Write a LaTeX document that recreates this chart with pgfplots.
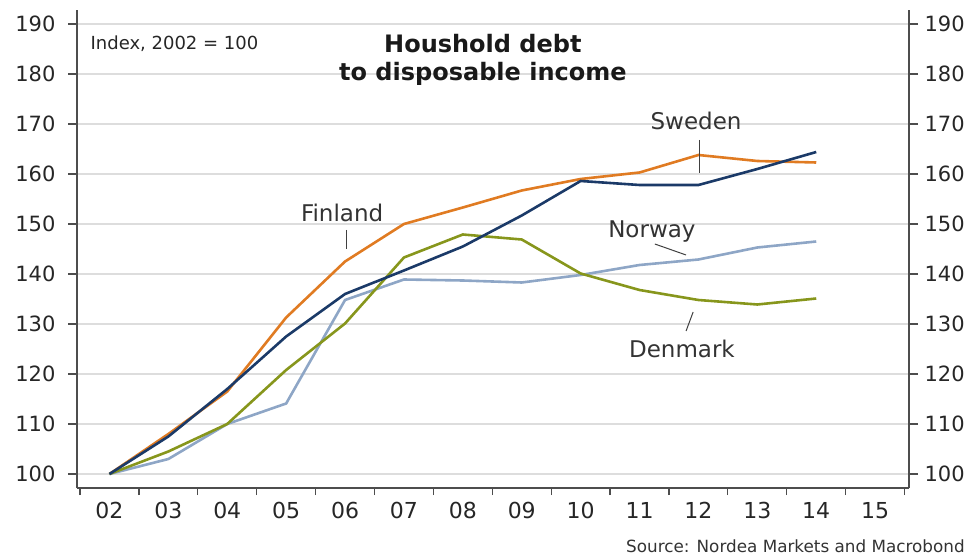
\documentclass[border=0pt]{standalone}
\usepackage{pgfplots}
\pgfplotsset{compat=1.18}
\usepackage{fontspec}
\setmainfont{DejaVu Sans}
\definecolor{swe}{HTML}{1B3A68}
\definecolor{fin}{HTML}{E07B22}
\definecolor{nor}{HTML}{8EA6C6}
\definecolor{den}{HTML}{87961C}
\definecolor{gridc}{HTML}{DDDDDD}
\definecolor{axc}{HTML}{4D4D4D}
\pgfplotsset{base/.style={
  scale only axis, width=832pt, height=478pt,
  xmin=1.449, xmax=15.575, ymin=97.2, ymax=192.8,
  ytick={100,110,...,190},
  /pgf/number format/assume math mode=true,
  tick align=outside,
  axis line style={axc, line width=1.2pt},
  major tick length=9pt,
  minor tick length=7pt,
  ytick style={axc, line width=1.2pt},
  ticklabel style={font=\fontsize{21}{21}\selectfont, text=black!85},
  clip=false,
}}
\begin{document}
\begin{tikzpicture}
\path[use as bounding box] (-77pt,-69pt) rectangle (894pt,488pt);
\begin{axis}[base,
  axis x line*=bottom, axis y line*=left,
  xtick={2,...,15},
  xticklabels={02,03,04,05,06,07,08,09,10,11,12,13,14,15},
  major x tick style={draw=none},
  minor xtick={1.5,2.5,...,15.5},
  minor x tick style={axc, line width=1.2pt},
  xticklabel style={font=\fontsize{22}{22}\selectfont, yshift=-2pt},
  yticklabel style={xshift=-9pt},
  ymajorgrids, major grid style={gridc, line width=1.5pt},
]
\addplot[fin, line width=2.6pt] coordinates {(2,100) (3,108) (4,116.5) (5,131.3) (6,142.5) (7,150) (8,153.3) (9,156.7) (10,159) (11,160.3) (12,163.8) (13,162.6) (14,162.3)};
\addplot[nor, line width=2.6pt] coordinates {(2,100) (3,103) (4,110) (5,114.1) (6,134.8) (7,138.9) (8,138.7) (9,138.3) (10,139.8) (11,141.8) (12,142.9) (13,145.3) (14,146.5)};
\addplot[den, line width=2.6pt] coordinates {(2,100) (3,104.5) (4,110) (5,120.8) (6,130.1) (7,143.3) (8,147.9) (9,146.9) (10,140.1) (11,136.8) (12,134.8) (13,133.9) (14,135.1)};
\addplot[swe, line width=2.6pt] coordinates {(2,100) (3,107.5) (4,117) (5,127.5) (6,136) (7,140.7) (8,145.5) (9,151.7) (10,158.6) (11,157.8) (12,157.8) (13,161) (14,164.4)};
\node[anchor=base west, font=\fontsize{18}{18}\selectfont, text=black!85] at (axis cs:1.62,184.8) {Index, 2002 = 100};
\node[anchor=base, font=\bfseries\fontsize{24}{24}\selectfont, text=black!90] at (axis cs:8.34,184.2) {Houshold debt};
\node[anchor=base, font=\bfseries\fontsize{24}{24}\selectfont, text=black!90] at (axis cs:8.34,178.6) {to disposable income};
\node[anchor=base, font=\fontsize{23}{23}\selectfont, text=black!80] at (axis cs:11.96,168.8) {Sweden};
\draw[black!75, line width=1pt] (axis cs:12.01,166.8) -- (axis cs:12.01,160.2);
\node[anchor=base, font=\fontsize{23}{23}\selectfont, text=black!80] at (axis cs:5.95,150.4) {Finland};
\draw[black!75, line width=1pt] (axis cs:6.02,148.8) -- (axis cs:6.02,145.0);
\node[anchor=base, font=\fontsize{23}{23}\selectfont, text=black!80] at (axis cs:11.21,147.2) {Norway};
\draw[black!75, line width=1pt] (axis cs:11.26,146.0) -- (axis cs:11.79,143.8);
\node[anchor=base, font=\fontsize{23}{23}\selectfont, text=black!80] at (axis cs:11.72,123.4) {Denmark};
\draw[black!75, line width=1pt] (axis cs:11.79,128.6) -- (axis cs:11.91,132.4);
\node[anchor=base east, font=\fontsize{16.8}{16.8}\selectfont, text=black!80] at (axis cs:16.58,84.4) {Source: Nordea Markets and Macrobond};
\end{axis}
\begin{axis}[base,
  axis x line=none, axis y line*=right,
  yticklabel style={xshift=3pt},
]
\addplot[draw=none] coordinates {(2,100)};
\end{axis}
\end{tikzpicture}
\end{document}
